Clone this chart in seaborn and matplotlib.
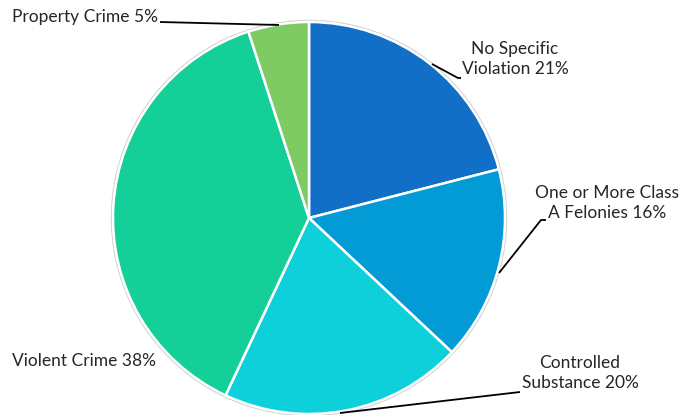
import matplotlib
matplotlib.use("Agg")
import matplotlib.pyplot as plt
import seaborn as sns

categories = ["No Specific\nViolation", "One or More Class\nA Felonies", "Controlled\nSubstance",
              "Violent Crime", "Property Crime"]
shares = [21, 16, 20, 38, 5]
colors = ["#116FC7", "#029BD6", "#0ED0DB", "#14CF98", "#7ECB64"]

sns.set_theme(style="white")
plt.rcParams["font.family"] = ["Lato", "DejaVu Sans"]

W, H = 679, 415
fig = plt.figure(figsize=(W / 100, H / 100), dpi=100)
ax = fig.add_axes([0, 0, 1, 1])

cx, cy, r = 309, H - 218, 196

# faint outer rim
ax.pie([1], colors=["none"], center=(cx, cy), radius=r + 1.5,
       wedgeprops=dict(edgecolor="#D0D0D0", linewidth=1.0), frame=True)
ax.pie(shares, colors=colors, startangle=90, counterclock=False,
       center=(cx, cy), radius=r,
       wedgeprops=dict(edgecolor="white", linewidth=1.8), frame=True)
ax.set_xlim(0, W)
ax.set_ylim(0, H)
ax.set_aspect("equal")
ax.axis("off")

def y(v):
    return H - v

labels = [f"{c} {s}%" for c, s in zip(categories, shares)]
fs = 12.5

# leader lines (image-space points)
leaders = [
    [(432, 64), (458, 78), (461, 78)],
    [(499, 273), (541, 220), (546, 220)],
    [(340, 413), (520, 392)],
    [],
    [(279, 25), (160, 22)],
]
for pts in leaders:
    if pts:
        ax.plot([p[0] for p in pts], [y(p[1]) for p in pts], color="black", lw=1.3,
                solid_capstyle="butt")

ax.text(515, y(59), labels[0], ha="center", va="center", fontsize=fs, linespacing=1.35)
ax.text(607, y(203), labels[1], ha="center", va="center", fontsize=fs, linespacing=1.35)
ax.text(580, y(373), labels[2], ha="center", va="center", fontsize=fs, linespacing=1.35)
ax.text(12, y(361), labels[3], ha="left", va="center", fontsize=fs)
ax.text(12, y(17), labels[4], ha="left", va="center", fontsize=fs)

fig.savefig("out.png", dpi=100, facecolor="white")
